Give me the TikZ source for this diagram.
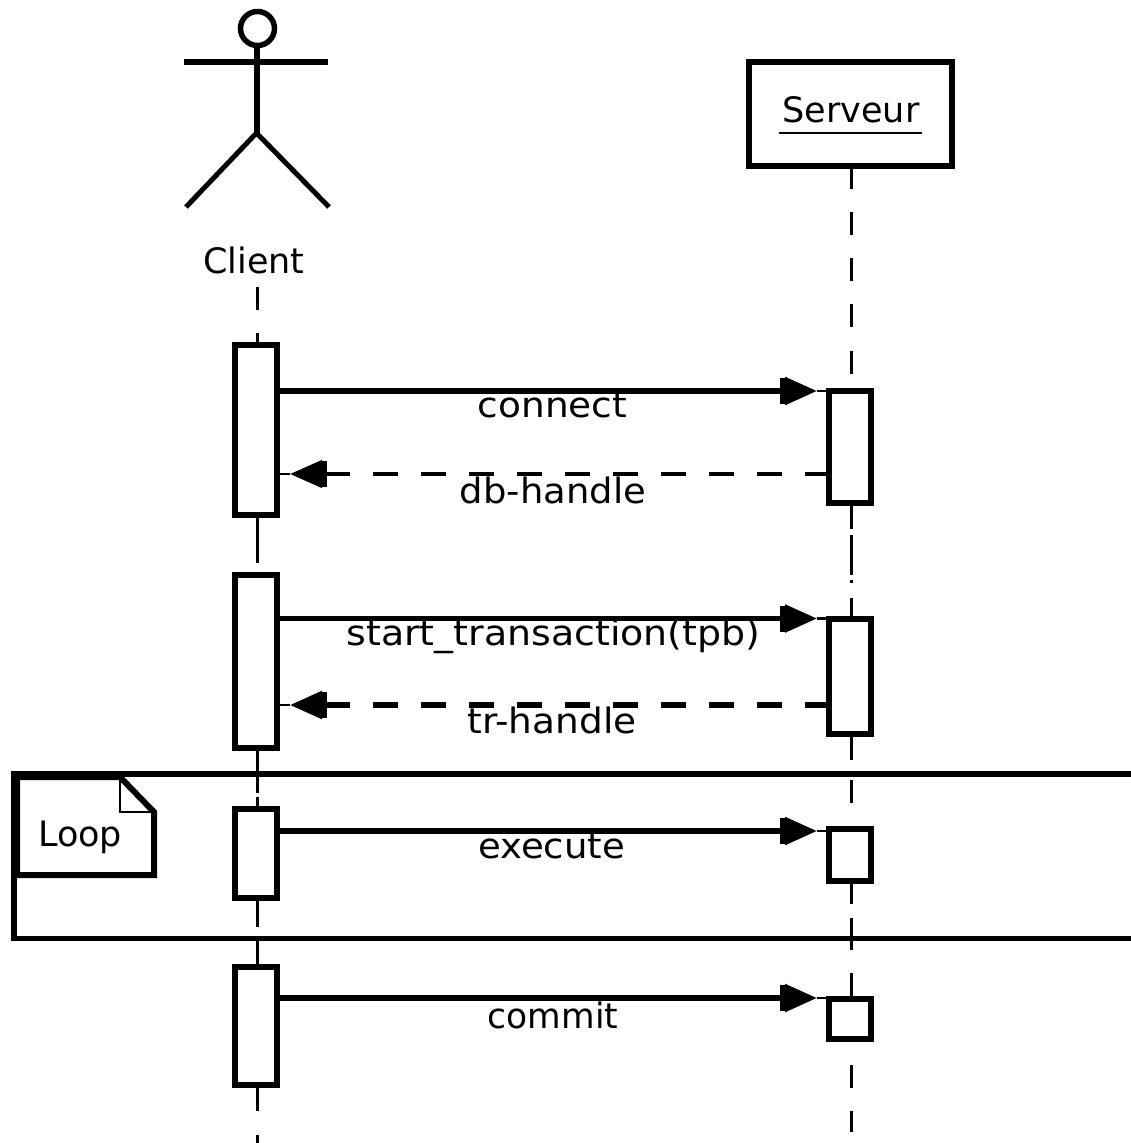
\documentclass[tikz,border=0pt]{standalone}
\usepackage{fontspec}
\setmainfont{DejaVu Sans}
\usetikzlibrary{arrows.meta}
\tikzset{
  px/.style={x=1pt,y=-1pt},
  lifeline/.style={draw=black,line width=3pt},
  actbox/.style={draw=black,fill=white,line width=6pt,minimum width=42pt,inner sep=0pt,outer sep=0pt},
  headbox/.style={draw=black,fill=white,line width=6pt,minimum width=203pt,minimum height=104pt,inner sep=0pt,outer sep=0pt},
  lbl/.style={font=\fontsize{35}{42}\selectfont,anchor=base,inner sep=0pt,text=black},
  solidhead/.style={-{Rectangle[length=5pt,width=26pt,sep=0pt,fill=black]Triangle[length=32pt,width=27pt,sep=0pt,fill=black]}},
  msg/.style={solidhead,line width=5.5pt},
  ret/.style={solidhead,line width=4.5pt,dash pattern=on 25pt off 23pt,dash phase=1pt},
  rettwo/.style={ret,line width=5.5pt},
  tail/.style={line width=2.5pt},
  framestyle/.style={line width=5.5pt},
  notestyle/.style={draw=black,fill=white,line width=6pt,line join=miter},
}
\newcommand{\abox}[4]{\node[actbox,minimum height={#4-#3}] (#1) at (#2,{(#3+#4)/2}) {};}
\begin{document}
\begin{tikzpicture}[px]
\useasboundingbox (0,0) rectangle (1130,1143);
\fill[white] (0,0) rectangle (1130,1143);
% coordinates
\coordinate (cltop) at (257,287);
\coordinate (clbot) at (257,1143);
\coordinate (srvbot) at (851,1143);
\coordinate (m1) at (552,391);
\coordinate (m2) at (552,474);
\coordinate (m3) at (552,618.5);
\coordinate (m4) at (552,705);
\coordinate (m5) at (552,831);
\coordinate (m6) at (552,998);
\coordinate (t1) at (817,391);
\coordinate (t2) at (290,474);
\coordinate (t3) at (817,618.5);
\coordinate (t4) at (290,705);
\coordinate (t5) at (817,831);
\coordinate (t6) at (817,998);
% server head
\node[headbox] (srv) at (850.5,114) {};
% lifelines
\draw[lifeline,dash pattern=on 23pt off 23pt on 230pt off 10pt on 220pt off 4pt on 130pt off 9pt on 175pt off 24pt on 20pt] (cltop) -- (clbot);
\path (srv.south) ++(0.5,0) coordinate (srvtop);
\draw[lifeline,dash pattern=on 23pt off 23pt on 23pt off 23pt on 23pt off 23pt on 23pt off 24pt on 23pt off 132pt on 23pt off 6pt on 40pt off 5pt on 3pt off 15pt on 162pt off 20pt on 23pt off 81pt on 20pt off 14pt on 32pt off 23pt on 46pt off 46pt on 23pt off 23pt on 21pt off 20pt] (srvtop) -- (srvbot);
% frame
\coordinate (fa) at (1135,774);
\coordinate (fb) at (14,774);
\coordinate (fc) at (14,938.5);
\coordinate (fd) at (1135,938.5);
\draw[framestyle] (fa) -- (fb) -- (fc) -- (fd);
% note
\coordinate (na) at (17,777);
\coordinate (nb) at (120,777);
\coordinate (nc) at (154,812);
\coordinate (nd) at (154,875);
\coordinate (ne) at (17,875);
\coordinate (nf) at (120,812);
\draw[notestyle] (na) -- (nb) -- (nc) -- (nd) -- (ne) -- cycle;
\draw[line width=2.5pt] (nb) -- (nf) -- (nc);
\node[lbl,anchor=base west] (loop) at (38,846) {Loop};
% activation boxes
\abox{c1}{256}{344.5}{515}
\abox{c2}{256}{574.5}{748}
\abox{c3}{256}{808.5}{898}
\abox{c4}{256}{966.5}{1085}
\abox{s1}{850}{391}{503}
\abox{s2}{850}{619}{734}
\abox{s3}{850}{829}{881}
\abox{s4}{850}{999}{1039}
% actor
\node[draw=black,line width=5.5pt,circle,minimum size=34pt,inner sep=0pt,outer sep=0pt] (head) at (257.5,28.5) {};
\coordinate (hip) at (256.5,133);
\coordinate (arml) at (184,62);
\coordinate (armr) at (328,62);
\coordinate (legl) at (186,207);
\coordinate (legr) at (329,207);
\draw[line width=6pt] (head.south -| hip) -- (hip);
\draw[line width=6pt] (arml) -- (armr);
\draw[line width=5pt,line join=miter] (legl) -- (hip) -- (legr);
% messages
\draw[msg] (c1.east |- m1) -- (t1);
\draw[tail] (t1) -- (s1.west |- m1);
\draw[ret] (s1.west |- m2) -- (t2);
\draw[tail] (t2) -- (c1.east |- m2);
\draw[msg] (c2.east |- m3) -- (t3);
\draw[tail] (t3) -- (s2.west |- m3);
\draw[rettwo] (s2.west |- m4) -- (t4);
\draw[tail] (t4) -- (c2.east |- m4);
\draw[msg] (c3.east |- m5) -- (t5);
\draw[tail] (t5) -- (s3.west |- m5);
\draw[msg] (c4.east |- m6) -- (t6);
\draw[tail] (t6) -- (s4.west |- m6);
% labels
\node[lbl] (clientlbl) at (254,273) {Client};
\node[lbl] (srvlbl) at (851,122.5) {Serveur};
\draw[line width=2pt] (779,132.5) -- (922,132.5);
\node[lbl,xscale=1.07] (l1) at (552.5,417) {connect};
\node[lbl,xscale=1.055] (l2) at (553,503) {db-handle};
\node[lbl,xscale=1.083] (l3) at (553.5,645) {start\_transaction(tpb)};
\node[lbl,xscale=1.07] (l4) at (552,733) {tr-handle};
\node[lbl,xscale=1.058] (l5) at (551.5,858) {execute};
\node[lbl,xscale=0.985] (l6) at (553,1028) {commit};
\end{tikzpicture}
\end{document}
